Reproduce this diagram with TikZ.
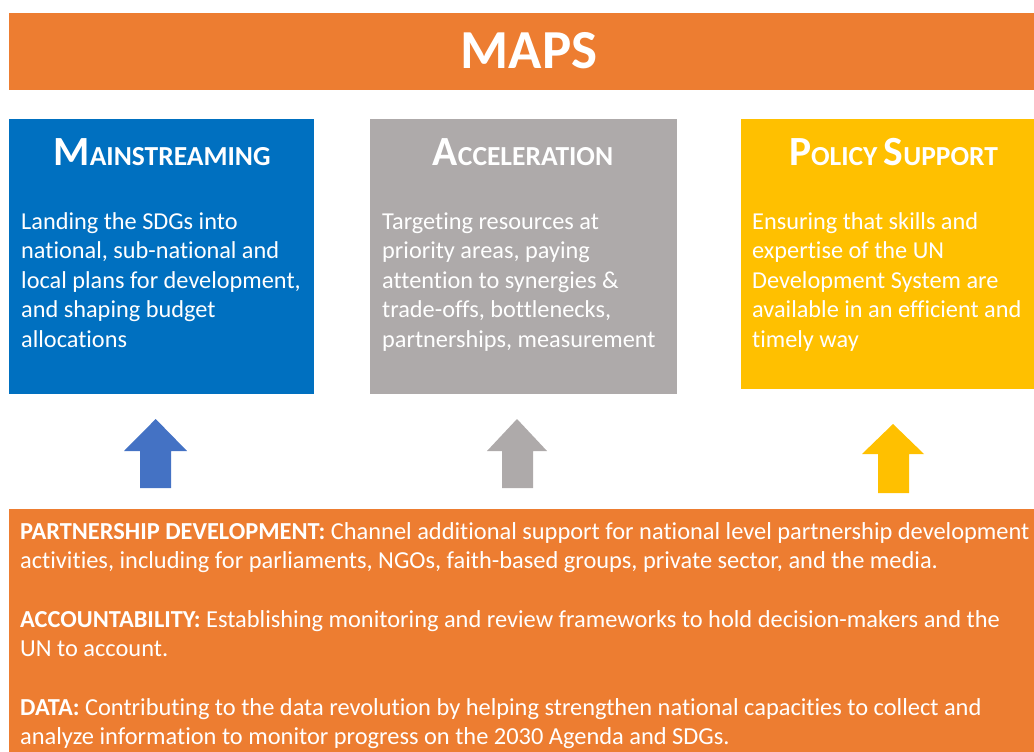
\documentclass[tikz,border=0pt]{standalone}
\usepackage{fontspec}
\setmainfont{Carlito}[Ligatures=NoCommon]
\definecolor{maporange}{HTML}{ED7D31}
\definecolor{mainblue}{HTML}{0070C0}
\definecolor{accgray}{HTML}{AEAAAA}
\definecolor{polyellow}{HTML}{FFC000}
\definecolor{arrowblue}{HTML}{4472C4}
\newcommand{\bigcapfont}{\fontsize{41.5}{41.5}\selectfont}
\newcommand{\smallcapfont}{\fontsize{27.5}{27.5}\selectfont}
\begin{document}
\begin{tikzpicture}[x=1pt,y=-1pt,
  heading/.style={text=white,font=\bfseries,inner sep=0pt,anchor=base},
  bodytext/.style={text=white,font=\fontsize{24.3}{29.6}\selectfont,align=left,inner sep=0pt,anchor=base west},
  bottomtext/.style={text=white,font=\fontsize{24.4}{29.4}\selectfont,inner sep=0pt,anchor=base west},
]
\useasboundingbox (0,0) rectangle (1034,752);
\clip (0,0) rectangle (1034,752);
% banner
\fill[maporange] (9,13) rectangle (1040,90);
\node[heading,font=\bfseries\fontsize{55}{55}\selectfont] (maps) at (529,69) {MAPS};
% boxes
\fill[mainblue] (9,119) rectangle (314,394);
\fill[accgray] (370,119) rectangle (677,394);
\fill[polyellow] (741,119) rectangle (1040,389);
\node[heading] (mainhead) at (162,165) {\bigcapfont M\smallcapfont AINSTREAMING};
\node[heading] (acchead) at (523,165) {\bigcapfont A\smallcapfont CCELERATION};
\node[heading] (polhead) at (893.5,165) {\bigcapfont P\smallcapfont OLICY \bigcapfont S\smallcapfont UPPORT};
\node[bodytext] (mainbody) at (21,347.4) {Landing the SDGs into\\national, sub-national and\\local plans for development,\\and shaping budget\\allocations};
\node[bodytext] (accbody) at (382,347.4) {Targeting resources at\\priority areas, paying\\attention to synergies \&\\trade-offs, bottlenecks,\\partnerships, measurement};
\node[bodytext] (polbody) at (752,347.4) {Ensuring that skills and\\expertise of the UN\\Development System are\\available in an efficient and\\timely way};
% arrows
\fill[arrowblue] (155.7,419) -- (187,451) -- (171,451) -- (171,488) -- (140,488) -- (140,451) -- (124,451) -- cycle;
\fill[accgray] (517,419) -- (547,451) -- (533,451) -- (533,488) -- (502,488) -- (502,451) -- (487,451) -- cycle;
\fill[polyellow] (893,424) -- (924,454) -- (909,454) -- (909,493) -- (878,493) -- (878,454) -- (862,454) -- cycle;
% bottom box
\fill[maporange] (9,509) rectangle (1040,760);
\node[bottomtext] (partnerA) at (20,539) {\textbf{PARTNERSHIP DEVELOPMENT:} Channel additional support for national level partnership development};
\node[bottomtext] (partnerB) at (20,568.4) {activities, including for parliaments, NGOs, faith-based groups, private sector, and the media.};
\node[bottomtext] (accountA) at (20,627.5) {\textbf{ACCOUNTABILITY:} Establishing monitoring and review frameworks to hold decision-makers and the};
\node[bottomtext] (accountB) at (20,656.9) {UN to account.};
\node[bottomtext] (dataA) at (20,715.5) {\textbf{DATA:} Contributing to the data revolution by helping strengthen national capacities to collect and};
\node[bottomtext] (dataB) at (20,744.9) {analyze information to monitor progress on the 2030 Agenda and SDGs.};
\end{tikzpicture}
\end{document}
